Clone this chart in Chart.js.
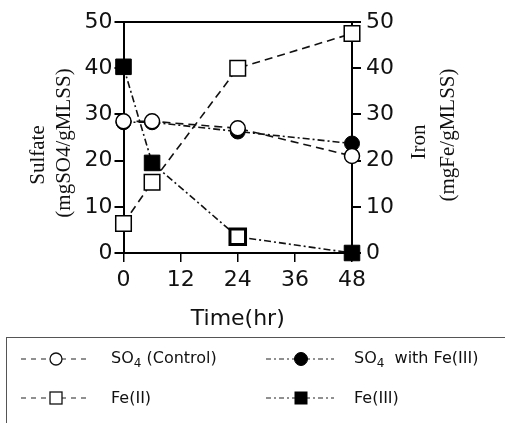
<!DOCTYPE html>
<html>
<head>
<meta charset="utf-8">
<script src="https://cdn.jsdelivr.net/npm/chart.js@4"></script>
<style>
  html, body { margin:0; padding:0; background:#fff; }
  #wrap { position:relative; width:505px; height:423px; overflow:hidden; }
  #c { position:absolute; left:0; top:0; }
  .ytitle { position:absolute; white-space:nowrap; font-family:"Liberation Serif", serif; font-size:21px; color:#111;
            transform:translate(-50%,-50%) rotate(-90deg); line-height:1; }
  #legend { position:absolute; left:6px; top:337px; width:499px; height:100px;
            border-top:1px solid #555; border-left:1px solid #555; }
  .lg { position:absolute; font-family:"DejaVu Sans", sans-serif; font-size:16px; color:#111; white-space:nowrap; line-height:1; transform:translateY(-50%); }
  .lg sub { font-size:12px; vertical-align:-4px; }
  svg.samp { position:absolute; left:0; top:0; }
</style>
</head>
<body>
<div id="wrap">
  <canvas id="c" width="505" height="423"></canvas>
  <div class="ytitle" style="left:37px; top:155px;">Sulfate</div>
  <div class="ytitle" style="left:63px; top:143px;">(mgSO4/gMLSS)</div>
  <div class="ytitle" style="left:418px; top:142px;">Iron</div>
  <div class="ytitle" style="left:447px; top:135px;">(mgFe/gMLSS)</div>
  <div id="legend">
    <svg class="samp" width="499" height="100">
      <line x1="14" y1="21" x2="84" y2="21" stroke="#222" stroke-width="1.2" stroke-dasharray="5,5"/>
      <circle cx="49" cy="21" r="6" fill="#fff" stroke="#111" stroke-width="1.3"/>
      <line x1="259" y1="21" x2="327" y2="21" stroke="#222" stroke-width="1.2" stroke-dasharray="5,3,2,3"/>
      <circle cx="294" cy="21" r="6.5" fill="#000" stroke="#000" stroke-width="1"/>
      <line x1="14" y1="60" x2="84" y2="60" stroke="#222" stroke-width="1.2" stroke-dasharray="5,5"/>
      <rect x="43" y="54" width="12" height="12" fill="#fff" stroke="#111" stroke-width="1.3"/>
      <line x1="259" y1="60" x2="327" y2="60" stroke="#222" stroke-width="1.2" stroke-dasharray="5,3,2,3"/>
      <rect x="288" y="54" width="12" height="12" fill="#000" stroke="#000" stroke-width="1"/>
    </svg>
    <div class="lg" style="left:104px; top:21px;">SO<sub>4</sub> (Control)</div>
    <div class="lg" style="left:347px; top:21px;">SO<sub>4</sub>&nbsp; with Fe(III)</div>
    <div class="lg" style="left:104px; top:60px;">Fe(II)</div>
    <div class="lg" style="left:347px; top:60px;">Fe(III)</div>
  </div>
</div>
<script>
// ---- data ----
const timeHr = [0, 6, 24, 48];
const so4Control = [28.5, 28.5, 27.0, 21.0];
const so4WithFe3 = [28.3, 28.3, 26.3, 23.7];
const fe2 = [6.4, 15.3, 40.0, 47.5];
const fe3 = [40.3, 19.5, 3.5, 0.0];
const xTicks = [0, 12, 24, 36, 48];
const yTicks = [0, 10, 20, 30, 40, 50];

const pts = arr => arr.map((v, i) => ({x: timeHr[i], y: v}));
const DASH = [8, 5];
const DASHDOT = [7, 3, 2, 3];

const tickFont = {family: 'DejaVu Sans', size: 22};

new Chart(document.getElementById('c'), {
  type: 'line',
  data: {
    datasets: [
      { label: 'SO4 (Control)', data: pts(so4Control), yAxisID: 'y', order: 0,
        borderColor: '#111', borderWidth: 1.6, borderDash: DASH, fill: false, tension: 0,
        pointStyle: 'circle', pointRadius: 7.5, pointBackgroundColor: '#fff', pointBorderColor: '#000', pointBorderWidth: 1.5, clip: false },
      { label: 'SO4 with Fe(III)', data: pts(so4WithFe3), yAxisID: 'y', order: 1,
        borderColor: '#111', borderWidth: 1.6, borderDash: DASHDOT, fill: false, tension: 0,
        pointStyle: 'circle', pointRadius: 7.5, pointBackgroundColor: '#000', pointBorderColor: '#000', pointBorderWidth: 1, clip: false },
      { label: 'Fe(II)', data: pts(fe2), yAxisID: 'y1', order: 2,
        borderColor: '#111', borderWidth: 1.6, borderDash: DASH, fill: false, tension: 0,
        pointStyle: 'rect', pointRadius: 11, pointBackgroundColor: '#fff', pointBorderColor: '#000', pointBorderWidth: 1.5, clip: false },
      { label: 'Fe(III)', data: pts(fe3), yAxisID: 'y1', order: 1,
        borderColor: '#111', borderWidth: 1.6, borderDash: DASHDOT, fill: false, tension: 0,
        pointStyle: 'rect', pointRadius: 11,
        pointBackgroundColor: ['#000', '#000', '#fff', '#000'], pointBorderColor: '#000',
        pointBorderWidth: [1, 1, 3, 1], clip: false }
    ]
  },
  options: {
    responsive: false,
    animation: false,
    events: [],
    layout: { padding: { top: 22, left: 0, right: 0, bottom: 0 } },
    plugins: { legend: { display: false }, tooltip: { enabled: false } },
    scales: {
      x: {
        type: 'linear', min: 0, max: 48,
        afterBuildTicks: s => { s.ticks = xTicks.map(v => ({value: v})); },
        afterFit: s => { s.height = 170; },
        border: { display: true, color: '#000', width: 2 },
        grid: { drawOnChartArea: false, drawTicks: true, tickLength: 9, color: '#000', lineWidth: 1.5 },
        ticks: { color: '#111', font: tickFont, padding: 5, maxRotation: 0 },
        title: { display: true, text: 'Time(hr)', color: '#111',
                 font: {family: 'DejaVu Sans', size: 22}, padding: {top: 0, bottom: 91} }
      },
      y: {
        position: 'left', min: 0, max: 50,
        afterBuildTicks: s => { s.ticks = yTicks.map(v => ({value: v})); },
        afterFit: s => { s.width = 123.5; },
        border: { display: true, color: '#000', width: 2 },
        grid: { drawOnChartArea: true, drawTicks: true, tickLength: 9,
                color: c => (c.tick && (c.tick.value === 0 || c.tick.value === 50)) ? '#000' : 'rgba(0,0,0,0)',
                tickColor: '#000', lineWidth: 2 },
        ticks: { color: '#111', font: tickFont, padding: 2 }
      },
      y1: {
        position: 'right', min: 0, max: 50,
        afterBuildTicks: s => { s.ticks = yTicks.map(v => ({value: v})); },
        afterFit: s => { s.width = 153; },
        border: { display: true, color: '#000', width: 2 },
        grid: { drawOnChartArea: false, drawTicks: true, tickLength: 9, color: '#000', lineWidth: 2 },
        ticks: { color: '#111', font: tickFont, padding: 5 }
      }
    }
  }
});
</script>
</body>
</html>
